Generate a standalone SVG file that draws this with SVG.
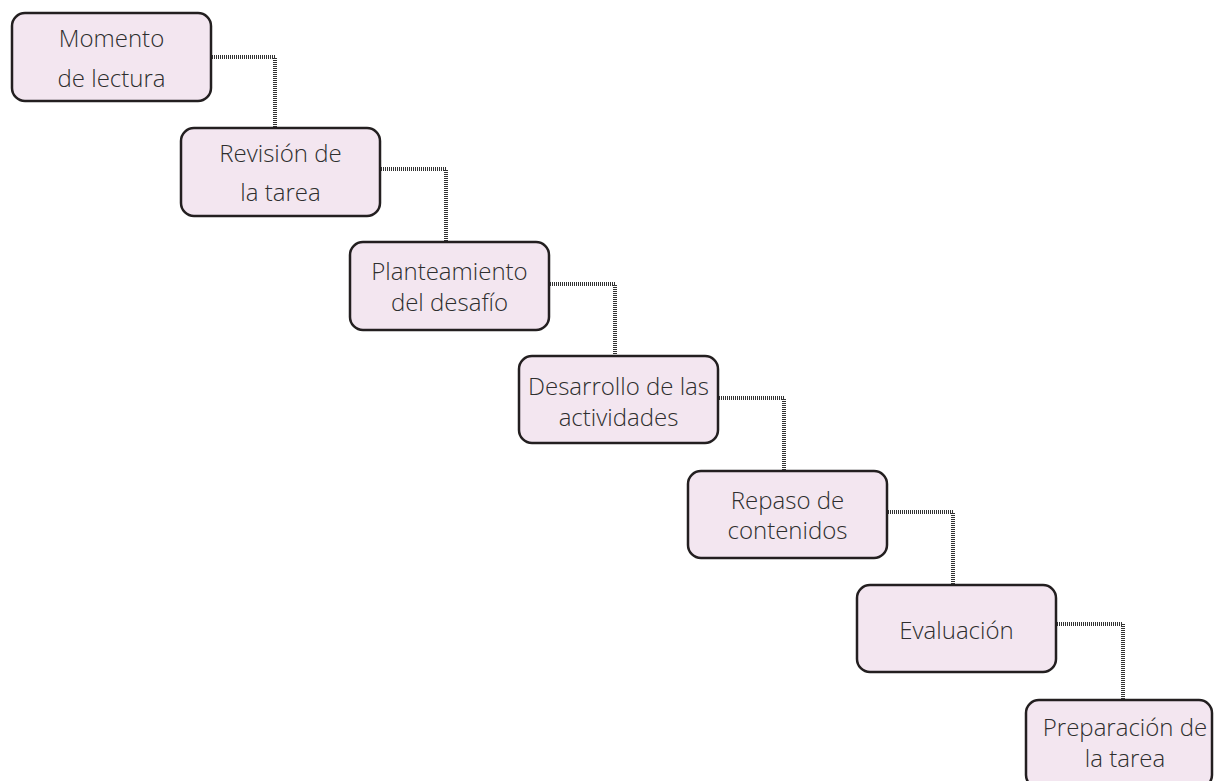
<svg xmlns="http://www.w3.org/2000/svg" width="1215" height="781" viewBox="0 0 1215 781">
<style>
.box{fill:#f3e6f0;stroke:#231f20;stroke-width:2.5}
.lbl{font-family:"Open Sans","Liberation Sans",sans-serif;font-size:24px;font-weight:300;fill:#2e2e2e;text-anchor:middle}
.conn{fill:none;stroke:#333;stroke-width:4;stroke-dasharray:1 1}
</style>
<rect width="1215" height="781" fill="#fff"/>
<g id="connectors">
<path class="conn" d="M212 57 H275 V127"/>
<path class="conn" d="M381 169 H446 V241"/>
<path class="conn" d="M550 284 H615 V355"/>
<path class="conn" d="M719 398 H784 V470"/>
<path class="conn" d="M888 512 H953 V584"/>
<path class="conn" d="M1057 624 H1123 V699"/>
</g>
<g id="n1"><rect class="box" x="12" y="13" width="199" height="88" rx="13"/><text class="lbl" x="111.5" y="47">Momento</text><text class="lbl" x="111.5" y="87">de lectura</text></g>
<g id="n2"><rect class="box" x="181" y="128" width="199" height="88" rx="13"/><text class="lbl" x="280.5" y="162">Revisión de</text><text class="lbl" x="280.5" y="201">la tarea</text></g>
<g id="n3"><rect class="box" x="350" y="242" width="199" height="88" rx="13"/><text class="lbl" x="449.5" y="280">Planteamiento</text><text class="lbl" x="449.5" y="311">del desafío</text></g>
<g id="n4"><rect class="box" x="519" y="356" width="199" height="87" rx="13"/><text class="lbl" x="618.5" y="395">Desarrollo de las</text><text class="lbl" x="618.5" y="426">actividades</text></g>
<g id="n5"><rect class="box" x="688" y="471" width="199" height="87" rx="13"/><text class="lbl" x="787.5" y="509">Repaso de</text><text class="lbl" x="787.5" y="539">contenidos</text></g>
<g id="n6"><rect class="box" x="857" y="585" width="199" height="87" rx="13"/><text class="lbl" x="956.5" y="639">Evaluación</text></g>
<g id="n7"><rect class="box" x="1026" y="700" width="186" height="88" rx="13"/><text class="lbl" x="1125" y="736">Preparación de</text><text class="lbl" x="1125" y="767">la tarea</text></g>
</svg>
